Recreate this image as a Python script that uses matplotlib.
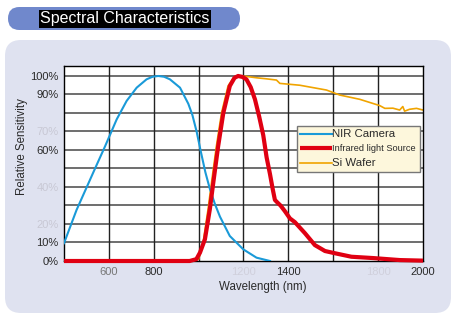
import matplotlib.pyplot as plt
from matplotlib.patches import FancyBboxPatch

# Werte
nir_nm = [400, 456, 531, 583, 635, 679, 724, 768, 795, 820, 846, 872, 917, 954,
          972, 991, 1010, 1030, 1050, 1072, 1095, 1139, 1199, 1258, 1318]
nir_val = [9.6, 27.6, 48, 62, 76.6, 86.5, 93.7, 98.2, 99.6, 100, 99.6, 98.2, 93.7, 85,
           79, 70, 59, 48, 39, 31, 24, 13.5, 6.3, 1.8, 0]

ir_nm = [400, 960, 990, 1006, 1028, 1050, 1065, 1087, 1110, 1139, 1160, 1176, 1195,
         1213, 1232, 1251, 1270, 1288, 1303, 1318, 1330, 1340, 1352, 1365, 1384,
         1407, 1429, 1474, 1518, 1563, 1607, 1681, 1776, 1897, 2000]
ir_val = [0, 0, 1, 4.5, 11.7, 28, 42, 62, 80, 94.6, 99, 100, 99.5,
          98.2, 94, 87.4, 78, 68, 56, 47, 39, 33, 31.5, 30, 27,
          23, 21, 15, 8.6, 5.4, 4.2, 2.3, 1.6, 0.5, 0.2]

si_nm = [1000, 1020, 1042, 1057, 1079, 1102, 1131, 1155, 1176, 1210, 1260, 1300,
         1347, 1362, 1451, 1570, 1629, 1718, 1807, 1830, 1866, 1896, 1910, 1918,
         1940, 1971, 2000]
si_val = [1, 10, 28, 42, 62, 80, 94.6, 99, 100, 99.8, 99, 98.5,
          97.8, 96, 95, 92.4, 89.7, 87.4, 84, 82.5, 82.6, 81.6, 83.5, 81,
          82, 82.5, 81.6]

y_ticks = [0, 10, 20, 40, 60, 70, 90, 100]
y_faded = [20, 40, 70]
x_ticks = [600, 800, 1200, 1400, 1800, 2000]
x_faded = [1200, 1800]

W, H = 456, 325
fig = plt.figure(figsize=(W / 100, H / 100), dpi=100)
fig.patch.set_facecolor("white")
plt.rcParams["font.family"] = ["Liberation Sans", "DejaVu Sans"]

# Hintergrundfläche
panel = FancyBboxPatch((5 / W, 1 - 313 / H), 446 / W, 273 / H,
                       boxstyle="round,pad=0,rounding_size=0.035",
                       transform=fig.transFigure, facecolor="#dfe2f0",
                       edgecolor="none", mutation_aspect=W / H, zorder=-2)
fig.patches.append(panel)

# Titelbalken
banner = FancyBboxPatch((8 / W, 1 - 30 / H), 232 / W, 23 / H,
                        boxstyle="round,pad=0,rounding_size=0.025",
                        transform=fig.transFigure, facecolor="#7088cc",
                        edgecolor="none", mutation_aspect=W / H, zorder=-2)
fig.patches.append(banner)
fig.text(125 / W, 1 - 19 / H, "Spectral Characteristics", color="white",
         fontsize=11.5, ha="center", va="center",
         bbox=dict(facecolor="black", edgecolor="none", pad=1.2))

ax = fig.add_axes([64 / W, 1 - 261 / H, 359 / W, 195 / H])
ax.set_facecolor("white")
ax.set_xlim(400, 2000)
ax.set_ylim(0, 105.4)

for v in range(10, 101, 10):
    ax.axhline(v, color="#555555", lw=1.2, zorder=1)
for v in range(600, 2000, 200):
    ax.axvline(v, color="#222222", lw=1.0, zorder=1)

ax.plot(nir_nm, nir_val, color="#1a9ad8", lw=1.5, label="NIR Camera", zorder=3,
        solid_joinstyle="round")
ax.plot(ir_nm, ir_val, color="#e00012", lw=3, label="Infrared light Source",
        zorder=4, clip_on=False, solid_capstyle="butt", solid_joinstyle="round")
ax.plot(si_nm, si_val, color="#f0a400", lw=1.2, label="Si Wafer", zorder=2)

for s in ax.spines.values():
    s.set_color("black")
    s.set_linewidth(1.0)

ax.set_yticks(y_ticks)
ax.set_yticklabels([f"{v}%" for v in y_ticks])
ax.set_xticks(x_ticks)
ax.set_xticklabels([str(v) for v in x_ticks])
ax.tick_params(length=0, labelsize=8, colors="#2a2a2a", pad=4)
for lab, v in zip(ax.get_yticklabels(), y_ticks):
    if v in y_faded:
        lab.set_color("#c8c8d4")
for lab, v in zip(ax.get_xticklabels(), x_ticks):
    if v in x_faded:
        lab.set_color("#d0d0dc")
    elif v == 600:
        lab.set_color("#777777")

fig.text(22 / W, 1 - 147 / H, "Relative Sensitivity", rotation=90,
         fontsize=8.3, ha="center", va="center", color="#2a2a2a")
fig.text(263 / W, 1 - 287 / H, "Wavelength (nm)", fontsize=8.3,
         ha="center", va="center", color="#2a2a2a")

leg = ax.legend(loc="upper left", bbox_to_anchor=(0.649, 0.692), fontsize=7,
                handlelength=3.2, handletextpad=0.1, borderpad=0.35,
                labelspacing=0.5, borderaxespad=0, fancybox=False,
                framealpha=1)
for t, fs in zip(leg.get_texts(), [8.2, 6.7, 8.2]):
    t.set_fontsize(fs)
    t.set_color("#2a2a2a")
leg.get_frame().set_facecolor("#fdf7dc")
leg.get_frame().set_edgecolor("#777777")
leg.get_frame().set_linewidth(1.0)
leg.set_zorder(5)

fig.savefig("out.png", dpi=100)
